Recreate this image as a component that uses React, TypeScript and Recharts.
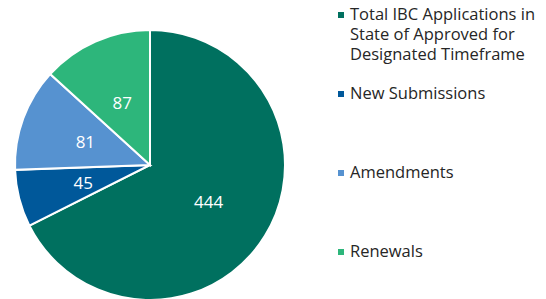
import { PieChart, Pie, Cell, Legend } from "recharts";

const categories = [
  "Total IBC Applications in State of Approved for Designated Timeframe",
  "New Submissions",
  "Amendments",
  "Renewals",
];
const counts = [444, 45, 81, 87];
const colors = ["#00705F", "#00589A", "#5692D0", "#2DB67B"];

const data = categories.map((name, i) => ({ name, value: counts[i] }));

const RAD = Math.PI / 180;

// value labels sit about halfway out on each slice
function SliceLabel(props: any) {
  const { cx, cy, midAngle, outerRadius, value } = props;
  const r = outerRadius * 0.51;
  const x = cx + r * Math.cos(-midAngle * RAD);
  const y = cy + r * Math.sin(-midAngle * RAD);
  return (
    <text
      x={x}
      y={y}
      fill="#fff"
      fontSize={17}
      textAnchor="middle"
      dominantBaseline="central"
      fontFamily="'Open Sans', sans-serif"
    >
      {value}
    </text>
  );
}

// legend rows are spaced out to line up like the original
const legendTops = [4, 83, 162, 241];

function SideLegend() {
  return (
    <div style={{ position: "relative", width: 205, height: 299 }}>
      {data.map((d, i) => (
        <div
          key={d.name}
          style={{
            position: "absolute",
            top: legendTops[i],
            left: 0,
            width: 205,
            display: "flex",
            alignItems: "flex-start",
          }}
        >
          <span
            style={{
              width: 6,
              height: 6,
              marginTop: 8,
              marginRight: 6,
              background: colors[i],
              flex: "none",
            }}
          />
          <span
            style={{
              fontFamily: "'Open Sans', sans-serif",
              fontSize: 16.5,
              lineHeight: "20px",
              color: "#262626",
              textAlign: "left",
            }}
          >
            {d.name}
          </span>
        </div>
      ))}
    </div>
  );
}

export default function App() {
  return (
    <div style={{ position: "absolute", left: 0, top: 0, background: "#fff" }}>
      <PieChart width={546} height={299} margin={{ top: 0, right: 0, bottom: 0, left: 0 }}>
        <Pie
          data={data}
          dataKey="value"
          nameKey="name"
          cx={150}
          cy={165}
          outerRadius={135}
          startAngle={90}
          endAngle={-270}
          stroke="#fff"
          strokeWidth={2}
          label={SliceLabel}
          labelLine={false}
          isAnimationActive={false}
        >
          {data.map((d, i) => (
            <Cell key={d.name} fill={colors[i]} />
          ))}
        </Pie>
        <Legend
          layout="vertical"
          content={() => <SideLegend />}
          wrapperStyle={{ position: "absolute", left: 338, top: 0, width: 205 }}
        />
      </PieChart>
    </div>
  );
}
